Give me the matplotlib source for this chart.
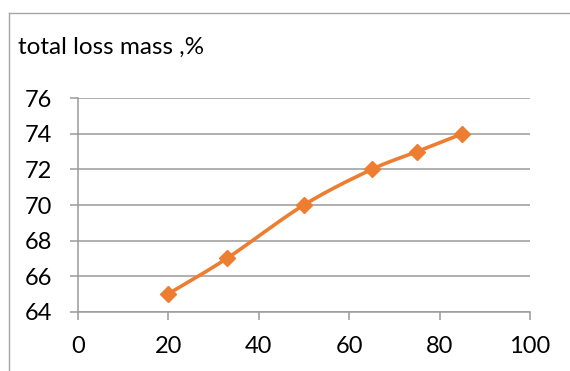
import matplotlib.pyplot as plt
from matplotlib.lines import Line2D
import numpy as np

# data
x_vals = [20, 33, 50, 65, 75, 85]
y_vals = [65, 67, 70, 72, 73, 74]
x_ticks = [0, 20, 40, 60, 80, 100]
y_ticks = [64, 66, 68, 70, 72, 74, 76]
y_title = "total loss mass ,%"

LINE_COLOR = "#ed7d31"
GRID_COLOR = "#9a9a9a"
FONT = "Lato"


def smooth_curve(x, y, n=30):
    # Catmull-Rom style smoothing, similar to a spreadsheet "smoothed line"
    x = np.asarray(x, float)
    y = np.asarray(y, float)
    px = np.concatenate([[2 * x[0] - x[1]], x, [2 * x[-1] - x[-2]]])
    py = np.concatenate([[2 * y[0] - y[1]], y, [2 * y[-1] - y[-2]]])
    xs, ys = [], []
    t = np.linspace(0, 1, n)
    for i in range(1, len(px) - 2):
        p0, p1, p2, p3 = (np.array([px[j], py[j]]) for j in range(i - 1, i + 3))
        c1 = p1 + (p2 - p0) / 6
        c2 = p2 - (p3 - p1) / 6
        seg = ((1 - t) ** 3)[:, None] * p1 + (3 * (1 - t) ** 2 * t)[:, None] * c1 \
            + (3 * (1 - t) * t ** 2)[:, None] * c2 + (t ** 3)[:, None] * p2
        xs.extend(seg[:, 0])
        ys.extend(seg[:, 1])
    return np.array(xs), np.array(ys)


fig = plt.figure(figsize=(5.70, 3.71), dpi=100)
ax = fig.add_axes([77.7 / 570, 1 - 311.7 / 371, (530 - 77.7) / 570, (311.7 - 98.3) / 371])

sx, sy = smooth_curve(x_vals, y_vals)
ax.plot(sx, sy, color=LINE_COLOR, linewidth=2.6, solid_capstyle="round", zorder=3)
ax.plot(x_vals, y_vals, linestyle="none", marker="D", markersize=8,
        color=LINE_COLOR, zorder=4)

ax.set_xlim(0, 100)
ax.set_ylim(64, 76)
ax.set_xticks(x_ticks)
ax.set_yticks(y_ticks)
ax.yaxis.grid(True, color=GRID_COLOR, linewidth=1.1)
ax.set_axisbelow(True)

for side in ("top", "right"):
    ax.spines[side].set_visible(False)
for side in ("left", "bottom"):
    ax.spines[side].set_color(GRID_COLOR)
    ax.spines[side].set_linewidth(1.1)

ax.tick_params(axis="both", direction="out", length=5.5, width=1.1,
               color=GRID_COLOR, labelsize=17, labelcolor="black")
ax.tick_params(axis="y", pad=13)
ax.tick_params(axis="x", pad=12)
for lbl in ax.get_xticklabels() + ax.get_yticklabels():
    lbl.set_fontfamily(FONT)

fig.text(18 / 570, 1 - 47 / 371, y_title, fontsize=17.5, family=FONT,
         ha="left", va="center")

# chart area border (only top and left edges visible in the crop)
border = "#a6a6a6"
fig.add_artist(Line2D([8.5 / 570, 1], [1 - 12.5 / 371, 1 - 12.5 / 371],
                      transform=fig.transFigure, color=border, linewidth=1))
fig.add_artist(Line2D([8.5 / 570, 8.5 / 570], [0, 1 - 12.5 / 371],
                      transform=fig.transFigure, color=border, linewidth=1))

fig.savefig("out.png", dpi=100)
